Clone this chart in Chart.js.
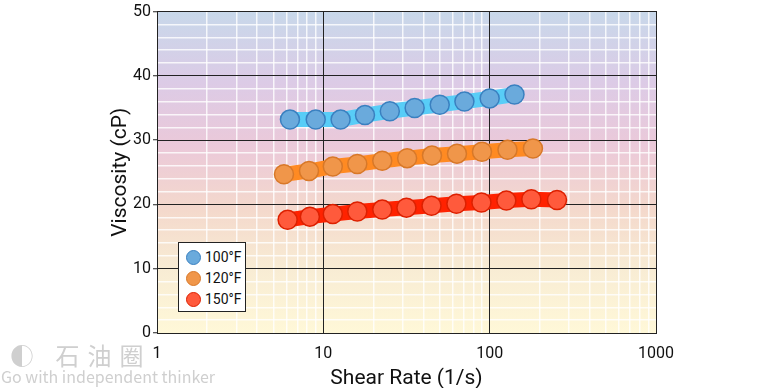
<!DOCTYPE html>
<html>
<head>
<meta charset="utf-8">
<script src="https://cdn.jsdelivr.net/npm/chart.js@4"></script>
<style>
    body { margin: 0; background: #fff; }
    .wrap { position: relative; width: 775px; height: 388px; font-family: Roboto, "DejaVu Sans", sans-serif; }
    canvas { position: absolute; left: 0; top: 0; }
    .legend { position: absolute; left: 178px; top: 242px; width: 68px; height: 70px; background: #fff; border: 1px solid #222; box-sizing: border-box; padding-top: 4px; }
    .legend div { height: 21px; line-height: 21px; font-size: 14px; color: #111; padding-left: 7px; }
    .legend span { display: inline-block; width: 15px; height: 15px; border-radius: 50%; vertical-align: -3px; margin-right: 4px; box-sizing: border-box; border: 1.5px solid; }
    .wm { position: absolute; color: #cfcfcf; font-family: "Noto Sans CJK SC", "DejaVu Sans", sans-serif; }
</style>
</head>
<body>
<div class="wrap">
    <canvas id="chart" width="775" height="388"></canvas>
    <div class="legend">
        <div><span style="background:#6aaadc;border-color:#3a80c0"></span>100°F</div>
        <div><span style="background:#f0964a;border-color:#d87828"></span>120°F</div>
        <div><span style="background:#ff5a3c;border-color:#dd2000"></span>150°F</div>
    </div>
    <div class="wm" style="left:10px;top:337px;font-size:24px;letter-spacing:8px;">◐ 石油圈</div>
    <div class="wm" style="left:1px;top:364px;font-size:16px;">Go with independent thinker</div>
</div>
<script>
const shear100 = [6.3, 9.0, 12.7, 17.8, 25.1, 35.4, 50.1, 70.5, 100, 141];
const visc100 = [33.2, 33.2, 33.2, 33.9, 34.5, 35.0, 35.5, 36.0, 36.5, 37.1];

const shear120 = [5.8, 8.2, 11.4, 16.0, 22.6, 31.9, 45.0, 63.6, 89.9, 128, 182];
const visc120 = [24.7, 25.2, 25.9, 26.3, 26.8, 27.2, 27.6, 27.9, 28.2, 28.5, 28.7];

const shear150 = [6.1, 8.3, 11.4, 16.0, 22.6, 31.6, 44.7, 63.1, 89.2, 126, 178, 254];
const visc150 = [17.6, 18.1, 18.5, 18.9, 19.2, 19.5, 19.8, 20.1, 20.3, 20.6, 20.8, 20.7];

const xTicks = [1, 2, 3, 4, 5, 6, 7, 8, 9, 10, 20, 30, 40, 50, 60, 70, 80, 90, 100, 200, 300, 400, 500, 600, 700, 800, 900, 1000];
const xLabels = [1, 10, 100, 1000];
const yLabels = [0, 10, 20, 30, 40, 50];

const toPoints = (xs, ys) => xs.map((x, i) => ({ x: x, y: ys[i] }));
const isMajorX = v => xLabels.includes(v);

const bgPlugin = {
    id: 'bg',
    beforeDraw(chart) {
        const { ctx, chartArea: a } = chart;
        const g = ctx.createLinearGradient(0, a.top, 0, a.bottom);
        g.addColorStop(0, '#c8d8ea');
        g.addColorStop(0.22, '#dccbe6');
        g.addColorStop(0.42, '#ebc9d9');
        g.addColorStop(0.62, '#f4d9cc');
        g.addColorStop(0.8, '#f8ecd4');
        g.addColorStop(1, '#fff8d8');
        ctx.save();
        ctx.fillStyle = g;
        ctx.fillRect(a.left, a.top, a.right - a.left, a.bottom - a.top);
        ctx.restore();
    }
};

const font = { family: 'Roboto, "DejaVu Sans", sans-serif' };
const minorWhite = 'rgba(255,255,255,0.8)';

new Chart(document.getElementById('chart'), {
    type: 'line',
    data: {
        datasets: [
            { label: '100°F', data: toPoints(shear100, visc100), borderColor: '#58cdf7', borderWidth: 15,
              pointBackgroundColor: '#6aaadc', pointBorderColor: '#3a80c0', pointRadius: 9.5, pointBorderWidth: 1.5 },
            { label: '120°F', data: toPoints(shear120, visc120), borderColor: '#ff8a22', borderWidth: 15,
              pointBackgroundColor: '#f0964a', pointBorderColor: '#d87828', pointRadius: 9.5, pointBorderWidth: 1.5 },
            { label: '150°F', data: toPoints(shear150, visc150), borderColor: '#ff2200', borderWidth: 15,
              pointBackgroundColor: '#ff5a3c', pointBorderColor: '#dd2000', pointRadius: 9.5, pointBorderWidth: 1.5 }
        ]
    },
    options: {
        responsive: false,
        animation: false,
        layout: { padding: { left: 108, right: 119, top: 10, bottom: 0 } },
        plugins: { legend: { display: false }, tooltip: { enabled: false } },
        scales: {
            x: {
                type: 'logarithmic',
                min: 1,
                max: 1000,
                afterBuildTicks: scale => { scale.ticks = xTicks.map(v => ({ value: v })); },
                afterFit: scale => { scale.height = 55; },
                ticks: {
                    autoSkip: false,
                    maxRotation: 0,
                    padding: 11,
                    color: '#111',
                    font: { ...font, size: 16 },
                    callback: v => isMajorX(v) ? String(v) : ''
                },
                grid: {
                    z: -1,
                    color: c => isMajorX(c.tick.value) ? 'rgba(0,0,0,0)' : minorWhite,
                    lineWidth: 1.5,
                    tickLength: 0
                },
                border: { display: true, color: '#222', width: 1 },
                title: { display: true, text: 'Shear Rate (1/s)', color: '#111', font: { ...font, size: 21 }, padding: { top: 3, bottom: -3 } }
            },
            y: {
                min: 0,
                max: 50,
                afterFit: scale => { scale.width = 49; },
                ticks: {
                    stepSize: 2,
                    autoSkip: false,
                    padding: 2,
                    color: '#111',
                    font: { ...font, size: 16 },
                    callback: v => v % 10 === 0 ? String(v) : ''
                },
                grid: {
                    z: -1,
                    color: c => c.tick.value % 10 === 0 ? 'rgba(0,0,0,0)' : minorWhite,
                    tickColor: c => c.tick.value % 10 === 0 ? '#222' : 'rgba(0,0,0,0)',
                    lineWidth: 1.5,
                    tickWidth: 1,
                    tickLength: 4
                },
                border: { display: true, color: '#222', width: 1 },
                title: { display: true, text: 'Viscosity (cP)', color: '#111', font: { ...font, size: 21 }, padding: { top: 0, bottom: 2 } }
            },
            x2: {
                type: 'logarithmic', position: 'top', min: 1, max: 1000,
                afterBuildTicks: scale => { scale.ticks = xLabels.map(v => ({ value: v })); },
                afterFit: scale => { scale.height = 0; },
                ticks: { display: false },
                grid: { color: '#222', lineWidth: 1, drawTicks: false },
                border: { display: true, color: '#222', width: 1 }
            },
            y2: {
                position: 'right', min: 0, max: 50,
                afterBuildTicks: scale => { scale.ticks = yLabels.map(v => ({ value: v })); },
                afterFit: scale => { scale.width = 0; },
                ticks: { display: false },
                grid: { color: '#222', lineWidth: 1, drawTicks: false },
                border: { display: true, color: '#222', width: 1 }
            }
        }
    },
    plugins: [bgPlugin]
});
</script>
</body>
</html>
